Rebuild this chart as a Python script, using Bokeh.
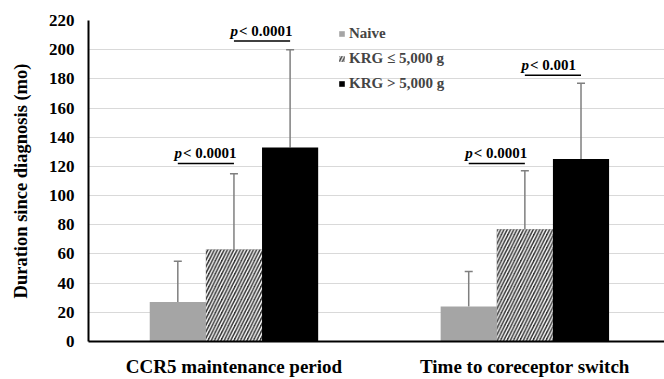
from bokeh.plotting import figure
from bokeh.models import (ColumnDataSource, Range1d, FixedTicker, Whisker, TeeHead,
                          Legend, LegendItem)
from bokeh.core.properties import value
from bokeh.embed import file_html
from bokeh.resources import INLINE

# ---- data ----
categories = ["CCR5 maintenance period", "Time to coreceptor switch"]
series = ["Naive", "KRG \u2264 5,000 g", "KRG > 5,000 g"]
naive_mean = [27, 24]
naive_sd = [28, 24]
krg_low_mean = [63, 77]
krg_low_sd = [52, 40]
krg_high_mean = [133, 125]
krg_high_sd = [67, 52]
y_ticks = [0, 20, 40, 60, 80, 100, 120, 140, 160, 180, 200, 220]

# significance brackets: (group index, from series, to series, height, label)
sig_group = [0, 0, 1, 1]
sig_from = [0, 1, 0, 1]
sig_to = [1, 2, 1, 2]
sig_y = [122, 206, 122, 182.5]
sig_label = ["< 0.0001", "< 0.0001", "< 0.0001", "< 0.001"]

FONT = "Liberation Serif"
bar_w = 0.193
offsets = [-bar_w, 0.0, bar_w]
centers = [0.5 + i for i in range(len(categories))]

p = figure(width=664, height=379, output_backend="svg", toolbar_location=None,
           x_range=Range1d(0, 1.98), y_range=Range1d(0, 220),
           min_border_left=88, min_border_right=0, min_border_top=20,
           min_border_bottom=37)
p.outline_line_color = None
p.background_fill_color = "white"
p.border_fill_color = "white"

means = [naive_mean, krg_low_mean, krg_high_mean]
sds = [naive_sd, krg_low_sd, krg_high_sd]
styles = [
    dict(fill_color="#a5a5a5"),
    dict(fill_color="#333333", hatch_pattern="right_diagonal_line",
         hatch_color="white", hatch_scale=6.5, hatch_weight=1.4),
    dict(fill_color="black"),
]
renderers = []
for k in range(3):
    xs = [c + offsets[k] for c in centers]
    src = ColumnDataSource(dict(x=xs, top=means[k],
                                upper=[m + s for m, s in zip(means[k], sds[k])]))
    r = p.vbar(x="x", top="top", width=bar_w, bottom=0, line_color=None,
               source=src, **styles[k])
    renderers.append(r)
    w = Whisker(source=src, base="x", lower="top", upper="upper",
                line_color="#7f7f7f", line_width=1.5, lower_head=None,
                upper_head=TeeHead(size=8, line_color="#7f7f7f", line_width=1.5))
    p.add_layout(w)

# significance brackets
x0 = [centers[g] + offsets[a] for g, a in zip(sig_group, sig_from)]
x1 = [centers[g] + offsets[b] for g, b in zip(sig_group, sig_to)]
xm = [(a + b) / 2 for a, b in zip(x0, x1)]
p.segment(x0=x0, y0=sig_y, x1=x1, y1=sig_y, line_color="black", line_width=1.5)
p.text(x=xm, y=sig_y, text=["p"] * len(sig_y), text_font=value(FONT),
       text_font_style="bold italic", text_font_size="15px", text_align="right",
       text_baseline="bottom", x_offset=-24, y_offset=-2, text_color="black")
p.text(x=xm, y=sig_y, text=sig_label, text_font=value(FONT),
       text_font_style="bold", text_font_size="15px", text_align="left",
       text_baseline="bottom", x_offset=-23, y_offset=-2, text_color="black")

# legend
legend = Legend(items=[LegendItem(label=series[k], renderers=[renderers[k]])
                       for k in range(3)],
                location=(250, 249), orientation="vertical",
                glyph_width=7, glyph_height=7, label_standoff=4,
                label_text_font=FONT, label_text_font_style="bold",
                label_text_font_size="15px", spacing=8, padding=0, margin=0,
                border_line_color=None, background_fill_alpha=0)
p.add_layout(legend, "center")

# axes
p.xaxis.ticker = FixedTicker(ticks=centers)
p.xaxis.major_label_overrides = {c: lab for c, lab in zip(centers, categories)}
p.xaxis.major_label_text_font = FONT
p.xaxis.major_label_text_font_style = "bold"
p.xaxis.major_label_text_font_size = "19px"
p.xaxis.major_label_text_color = "black"
p.xaxis.major_label_standoff = 14
p.xaxis.major_tick_line_color = None
p.xaxis.major_tick_out = 0
p.xaxis.major_tick_in = 0
p.xaxis.minor_tick_line_color = None
p.xaxis.axis_line_width = 2
p.xaxis.axis_line_color = "black"

p.yaxis.ticker = FixedTicker(ticks=y_ticks)
p.yaxis.major_label_text_font = FONT
p.yaxis.major_label_text_font_style = "bold"
p.yaxis.major_label_text_font_size = "17px"
p.yaxis.major_label_text_color = "black"
p.yaxis.major_label_standoff = 14
p.yaxis.major_tick_line_color = None
p.yaxis.major_tick_out = 0
p.yaxis.major_tick_in = 0
p.yaxis.minor_tick_line_color = None
p.yaxis.axis_line_width = 2
p.yaxis.axis_line_color = "black"
p.yaxis.axis_label = "Duration since diagnosis (mo)"
p.yaxis.axis_label_text_font = FONT
p.yaxis.axis_label_text_font_style = "bold"
p.yaxis.axis_label_text_font_size = "18.5px"
p.yaxis.axis_label_text_color = "black"
p.yaxis.axis_label_standoff = 15

p.xgrid.grid_line_color = None
p.ygrid.ticker = FixedTicker(ticks=y_ticks)
p.ygrid.grid_line_color = "#d9d9d9"
p.ygrid.grid_line_width = 1.2

open("out.html", "w").write(file_html(p, INLINE))
